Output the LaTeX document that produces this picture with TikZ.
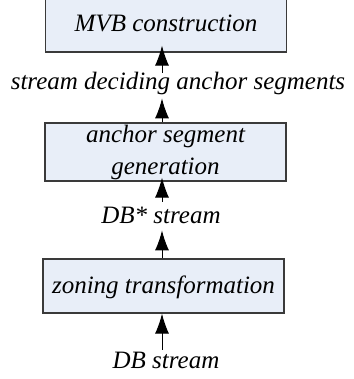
\documentclass[tikz,border=0pt]{standalone}
\usepackage{fontspec}
\setmainfont{Liberation Serif}[ItalicFont={Liberation Serif Italic}]
\usepackage{xcolor}
\usetikzlibrary{arrows.meta}
\definecolor{boxfill}{HTML}{E8EEF8}
\definecolor{boxline}{HTML}{3A3A3A}

\begin{document}
\begin{tikzpicture}[x=0.5pt,y=0.5pt,
  font=\fontsize{12.5}{15}\selectfont\itshape,
  procbox/.style={draw=boxline,fill=boxfill,line width=0.6pt,align=center,
    minimum width=120.5pt,inner sep=0pt},
  flowlbl/.style={inner sep=0pt,anchor=base},
  arr/.style={line width=0.5pt,-{Latex[length=10pt,width=7pt]}}]
\useasboundingbox (0,0) rectangle (353,-379);
\coordinate (ax) at (162,0);
% processing steps, top to bottom
\node[procbox,text height=18pt,text depth=10pt] (mvb) at (166,-24) {MVB construction};
% two-line box: height counts from the last baseline
\node[procbox,text height=26pt,text depth=3pt] (anchor) at (165.5,-152)
  {anchor segment\\[1.5pt]generation};
\node[procbox,text height=17pt,text depth=10pt] (zoning) at (163.5,-286) {zoning transformation};
% streams between the steps (placed at their baselines)
\node[flowlbl,text height=8.5pt,text depth=4pt] (sdas) at (178,-90) {stream deciding anchor segments};
\node[flowlbl,text height=10.5pt,text depth=3.5pt] (dbstar) at (161,-223) {DB* stream};
\node[flowlbl,text height=9pt] (db) at (166,-368) {DB stream};
% flow arrows
\draw[arr,shorten >=-3.5pt] (sdas.north -| ax) -- (mvb.south -| ax);
\draw[arr] (anchor.north -| ax) -- (sdas.south -| ax);
\draw[arr,shorten >=-2pt] (dbstar.north -| ax) -- (anchor.south -| ax);
\draw[arr] (zoning.north -| ax) -- (dbstar.south -| ax);
\draw[arr] (db.north -| ax) -- (zoning.south -| ax);
\end{tikzpicture}
\end{document}
